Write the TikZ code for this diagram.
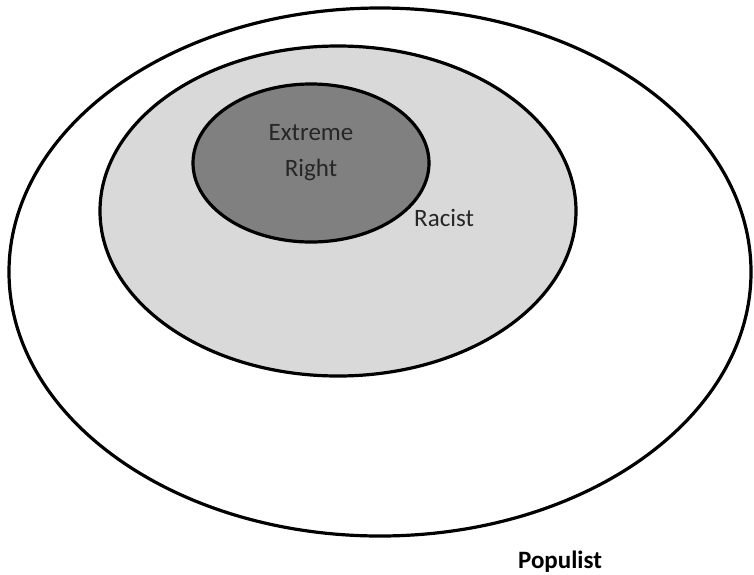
\documentclass[tikz,border=0pt]{standalone}
\usepackage{fontspec}
\setmainfont{Carlito}
\usetikzlibrary{shapes.geometric,positioning}

\begin{document}
\begin{tikzpicture}[x=1pt, y=-1pt,
    set/.style={draw, ellipse, line width=3.2pt, inner sep=0pt},
    lbl/.style={font=\fontsize{25}{27}\selectfont, text=black!85, inner sep=0pt}
]
    \useasboundingbox (0,0) rectangle (754,574);
    \node[set, fill=white, minimum width=742pt, minimum height=528pt] (populist) at (380,272) {};
    \node[set, fill=black!15, minimum width=476pt, minimum height=330pt] (racist) at (338,211) {};
    \node[set, fill=black!50, minimum width=236pt, minimum height=158pt] (extreme) at (311,163) {};

    \node[lbl] (t1) at (311,133) {Extreme};
    \node[lbl] (t2) at (311,170) {Right};
    \node[lbl, anchor=west] (t3) at (414,218) {Racist};
    \node[lbl, font=\fontsize{25}{27}\selectfont\bfseries, text=black] (t4) at (560,562) {Populist};
\end{tikzpicture}
\end{document}
